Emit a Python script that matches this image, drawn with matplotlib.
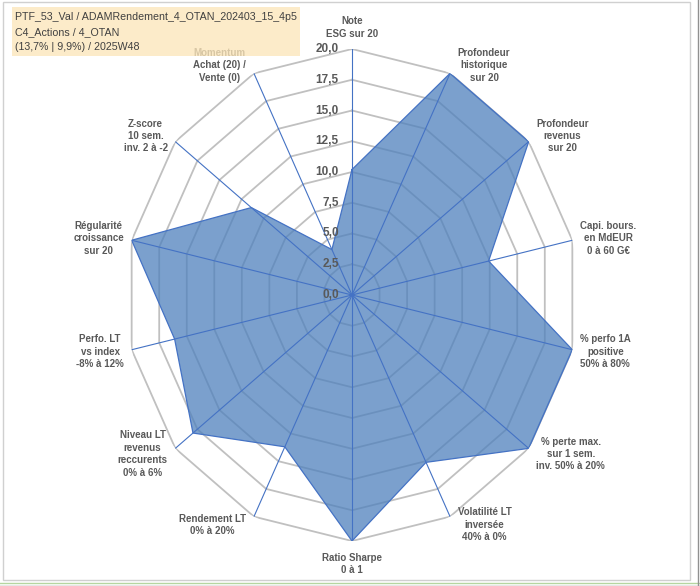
import numpy as np
import matplotlib
matplotlib.use('Agg')
import matplotlib.pyplot as plt
from matplotlib.patches import Rectangle
from matplotlib.lines import Line2D

# Axis labels (clockwise from top)
labels = [
    "Note\nESG sur 20",
    "Profondeur\nhistorique\nsur 20",
    "Profondeur\nrevenus\nsur 20",
    "Capi. bours.\nen MdEUR\n0 à 60 G€",
    "% perfo 1A\npositive\n50% à 80%",
    "% perte max.\nsur 1 sem.\ninv. 50% à 20%",
    "Volatilité LT\ninversée\n40% à 0%",
    "Ratio Sharpe\n0 à 1",
    "Rendement LT\n0% à 20%",
    "Niveau LT\nrevenus\nreccurents\n0% à 6%",
    "Perfo. LT\nvs index\n-8% à 12%",
    "Régularité\ncroissance\nsur 20",
    "Z-score\n10 sem.\ninv. 2 à -2",
    "Momentum\nAchat (20) /\nVente (0)",
]
values = [10.2, 20, 20, 12.4, 20, 20, 15.1, 20, 13.7, 18.0, 16.1, 20, 11.4, 4.1]
ticks = [0, 2.5, 5, 7.5, 10, 12.5, 15, 17.5, 20]
title_lines = [
    "PTF_53_Val / ADAMRendement_4_OTAN_202403_15_4p5",
    "C4_Actions / 4_OTAN",
    "(13,7% | 9,9%) / 2025W48",
]

W, H = 700, 586
fig = plt.figure(figsize=(W / 100, H / 100), dpi=100)
fig.patch.set_facecolor('white')

# plot area: centre (352, 295) px, x radius 226, y radius 246
cx, cy, rx, ry = 352, 295, 226, 246
ax = fig.add_axes([(cx - rx) / W, (H - cy - ry) / H, 2 * rx / W, 2 * ry / H],
                  projection='polar')
ax.set_aspect('auto')
ax.set_theta_zero_location('N')
ax.set_theta_direction(-1)
ax.set_ylim(0, 20)
ax.set_xticks([])
ax.set_yticks([])
ax.grid(False)
ax.spines['polar'].set_visible(False)
ax.patch.set_alpha(0)

n = len(labels)
theta = np.arange(n) * 2 * np.pi / n
theta_c = np.append(theta, theta[0])

# polygon gridlines
for t in ticks[1:]:
    ax.plot(theta_c, [t] * (n + 1), color='#C0C0C0', lw=1.3, zorder=1)

# series
vals_c = np.append(values, values[0])
ax.fill(theta_c, vals_c, color='#4F81BD', alpha=0.75, lw=0, zorder=2)
ax.plot(theta_c, vals_c, color='#4472C4', lw=0.9, zorder=4)

# spokes
for th in theta:
    ax.plot([th, th], [0, 20], color='#4472C4', lw=0.8, zorder=3)

# radial tick labels
for t in ticks:
    ax.annotate(f"{t:.1f}".replace('.', ','), xy=(0, t), xytext=(-9.5, 0),
                textcoords='offset points', ha='right', va='center',
                fontsize=8.5, fontweight='bold', color='#595959',
                family='Liberation Sans', zorder=5)

# category labels
for i, (th, lab) in enumerate(zip(theta, labels)):
    s, c = np.sin(th), np.cos(th)
    if abs(s) < 1e-6:
        if c > 0:
            ha, va, off = 'center', 'bottom', (0, 7.5)
        else:
            ha, va, off = 'center', 'top', (0, -8.5)
    else:
        ha = 'left' if s > 0 else 'right'
        va = 'center'
        off = (5.5 * np.sign(s), 6.5 * c)
    ax.annotate(lab, xy=(th, 20), xytext=off, textcoords='offset points',
                ha=ha, va=va, multialignment='center', fontsize=7,
                fontweight='bold', color='#595959', family='Liberation Sans',
                linespacing=1.3, annotation_clip=False, zorder=5)

# title box (semi-opaque, sits over the Momentum label)
fig.patches.append(Rectangle((12 / W, 1 - 56 / H), 288 / W, 49 / H,
                             transform=fig.transFigure, facecolor='#FCE6BA',
                             alpha=0.78, edgecolor='none', zorder=10))
for k, line in enumerate(title_lines):
    fig.text(15 / W, 1 - (17 + 15 * k) / H, line, ha='left', va='center',
             fontsize=7.7, color='#404040', family='Liberation Sans', zorder=11)

# chart border and sheet lines
fig.patches.append(Rectangle((3 / W, 1 - 580 / H), 687 / W, 578 / H,
                             transform=fig.transFigure, facecolor='none',
                             edgecolor='#D0D0D0', lw=1.0, zorder=12))
fig.lines.append(Line2D([0, 1], [1 - 582.5 / H] * 2, transform=fig.transFigure,
                        color='#B5D6A0', lw=1.0))
fig.lines.append(Line2D([0, 1], [1 - 585.5 / H] * 2, transform=fig.transFigure,
                        color='#808080', lw=1.0))
fig.lines.append(Line2D([697.5 / W] * 2, [0, 1], transform=fig.transFigure,
                        color='#909090', lw=1.0))

fig.savefig('out.png', dpi=100)
